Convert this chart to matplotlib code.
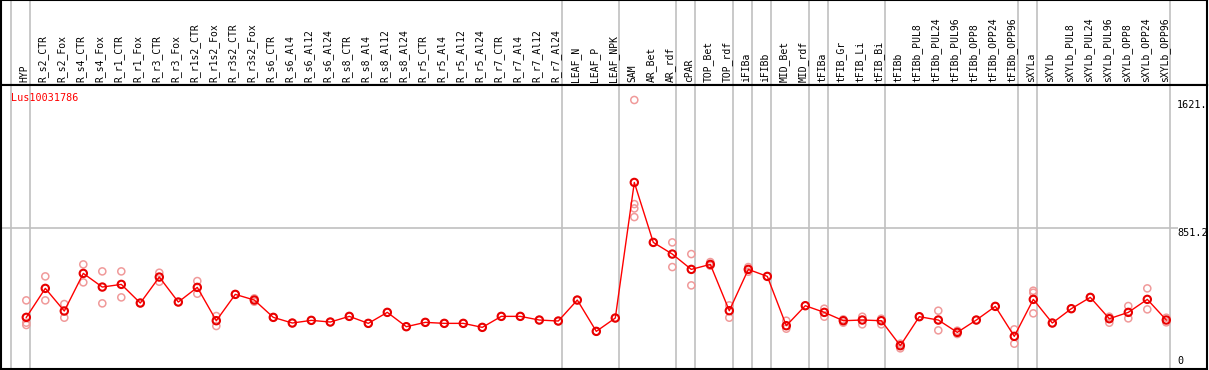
import matplotlib
matplotlib.use('Agg')
import matplotlib.pyplot as plt
import numpy as np

# sample names (header labels)
samples = ['HYP', 'R_s2_CTR', 'R_s2_Fox', 'R_s4_CTR', 'R_s4_Fox', 'R_r1_CTR', 'R_r1_Fox',
           'R_r3_CTR', 'R_r3_Fox', 'R_r1s2_CTR', 'R_r1s2_Fox', 'R_r3s2_CTR', 'R_r3s2_Fox',
           'R_s6_CTR', 'R_s6_Al4', 'R_s6_Al12', 'R_s6_Al24', 'R_s8_CTR', 'R_s8_Al4',
           'R_s8_Al12', 'R_s8_Al24', 'R_r5_CTR', 'R_r5_Al4', 'R_r5_Al12', 'R_r5_Al24',
           'R_r7_CTR', 'R_r7_Al4', 'R_r7_Al12', 'R_r7_Al24', 'LEAF_N', 'LEAF_P', 'LEAF_NPK',
           'SAM', 'AR_Bet', 'AR_rdf', 'cPAR', 'TOP_Bet', 'TOP_rdf', 'iFIBa', 'iFIBb',
           'MID_Bet', 'MID_rdf', 'tFIBa', 'tFIB_Gr', 'tFIB_Li', 'tFIB_Bi', 'tFIBb',
           'tFIBb_PUL8', 'tFIBb_PUL24', 'tFIBb_PUL96', 'tFIBb_OPP8', 'tFIBb_OPP24',
           'tFIBb_OPP96', 'sXYLa', 'sXYLb', 'sXYLb_PUL8', 'sXYLb_PUL24', 'sXYLb_PUL96',
           'sXYLb_OPP8', 'sXYLb_OPP24', 'sXYLb_OPP96']

# mean expression per sample
means = [316, 490, 354, 580, 498, 514, 402, 558, 408, 496, 296, 454, 420,
         316, 282, 298, 288, 322, 280, 346, 260, 286, 280, 280, 256,
         322, 322, 300, 294, 420, 232, 312,
         1126, 766, 696, 604, 634, 356, 604, 562,
         266, 386, 346, 296, 300, 296, 146,
         320, 300, 226, 300, 382, 202, 424, 282,
         368, 436, 308, 346, 424, 300]

# replicate values per sample
replicates = [[418, 284, 270], [562, 418], [396, 314], [634, 526], [592, 400],
              [592, 436], [402], [584, 530], [408], [534, 458], [324, 264],
              [454], [430, 410],
              [316], [282], [298], [288], [322], [280], [346], [260], [286], [280],
              [280], [256], [322], [322], [300], [294], [420], [232], [312],
              [1621, 996, 970, 918], [766], [766, 618], [696, 508], [648, 626],
              [388, 314], [618, 590], [562],
              [296, 248], [386], [368, 320], [304, 284], [320, 274], [308, 274],
              [158, 130],
              [320], [356, 238, 300], [236, 216], [300], [382], [244, 158],
              [476, 464, 340], [282],
              [368], [436], [320, 284], [384, 310], [490, 364], [314, 286]]

# last sample index of each group (grey separators)
group_ends = [0, 28, 31, 34, 35, 37, 38, 39, 41, 42, 45, 52, 53, 60]

gene = 'Lus10031786'
y_max_label = '1621.'
y_mid = 851.2

W, H = 1209, 370
fig = plt.figure(figsize=(W / 100, H / 100), dpi=100)

x = np.arange(len(samples))
xlo = (1 - 26.3) / 19
xhi = (1207 - 26.3) / 19
ylo, yhi = 6, 1711

# header axes
axh = fig.add_axes([1 / W, 1 - 85 / H, 1206 / W, 85 / H])
axh.set_xlim(xlo, xhi)
axh.set_ylim(0, 1)
axh.set_xticks([])
axh.set_yticks([])
for s in axh.spines.values():
    s.set_color('black')
    s.set_linewidth(1.5)
for i, name in enumerate(samples):
    axh.text(i - 0.1, 0.03, name, rotation=90, ha='center', va='bottom',
             family='DejaVu Sans Mono', fontsize=7.0, color='black')

# main axes
ax = fig.add_axes([1 / W, 1 / H, 1206 / W, 284 / H])
ax.set_xlim(xlo, xhi)
ax.set_ylim(ylo, yhi)
ax.set_xticks([])
ax.set_yticks([])
for s in ax.spines.values():
    s.set_color('black')
    s.set_linewidth(1.5)

for a in (ax, axh):
    a.axvline(-0.8, color='#c0c0c0', lw=1.2, zorder=1)
    for e in group_ends:
        a.axvline(e + 0.21, color='#c0c0c0', lw=1.2, zorder=1)

ax.hlines(y_mid, xlo, (1178 - 26.3) / 19, color='#c0c0c0', lw=1.2, zorder=1)

# replicates
for i, reps in enumerate(replicates):
    ax.scatter([i] * len(reps), reps, s=26, facecolors='none',
               edgecolors='#f09a9a', linewidths=1.1, zorder=2)

ax.plot(x, means, color='red', lw=1.0, zorder=3)
ax.scatter(x, means, s=28, facecolors='none', edgecolors='#e80000',
           linewidths=1.5, zorder=4)

ax.text(10 / 1206, 1 - 8 / 284, gene, transform=ax.transAxes, ha='left', va='top',
        family='DejaVu Sans Mono', fontsize=7.3, color='red')

lx = (1177 - 26.3) / 19
ax.text(lx, 1621, y_max_label, ha='left', va='top', family='DejaVu Sans Mono',
        fontsize=7.3, color='black')
ax.text(lx, y_mid, '851.2', ha='left', va='top', family='DejaVu Sans Mono',
        fontsize=7.3, color='black')
ax.text(lx, 55, '0', ha='left', va='center', family='DejaVu Sans Mono',
        fontsize=7.3, color='black')

fig.savefig('out.png', dpi=100)
